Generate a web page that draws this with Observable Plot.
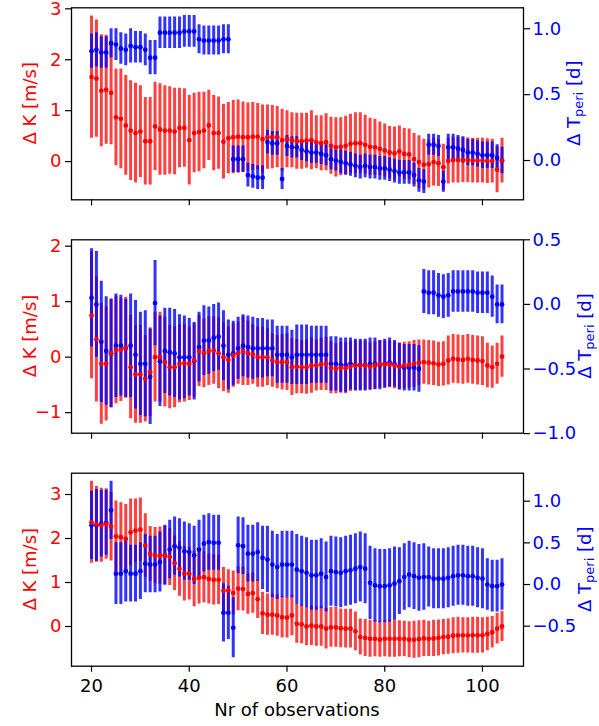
<!DOCTYPE html>
<html><head><meta charset="utf-8">
<script src="https://cdn.jsdelivr.net/npm/d3@7"></script>
<script src="https://cdn.jsdelivr.net/npm/@observablehq/plot@0.6"></script>
<style>
html,body{margin:0;padding:0;background:#fff;}
#chart{position:relative;width:599px;height:726px;}
#chart svg{position:absolute;left:0;top:0;}
</style></head><body><div id="chart"></div>
<script>
// Number of observations (x)
const observations = [20,21,22,23,24,25,26,27,28,29,30,31,32,33,34,35,36,37,38,39,40,41,42,43,44,45,46,47,48,49,50,51,52,53,54,55,56,57,58,59,60,61,62,63,64,65,66,67,68,69,70,71,72,73,74,75,76,77,78,79,80,81,82,83,84,85,86,87,88,89,90,91,92,93,94,95,96,97,98,99,100,101,102,103,104];

// Panel 1
const dK1 = [1.66,1.63,1.39,1.41,1.35,0.87,0.84,0.71,0.61,0.56,
 0.59,0.40,0.40,0.69,0.63,0.61,0.61,0.59,0.66,0.66,
 0.42,0.56,0.58,0.61,0.71,0.56,0.56,0.39,0.46,0.48,
 0.49,0.48,0.48,0.49,0.49,0.44,0.48,0.48,0.48,0.42,
 0.44,0.42,0.40,0.40,0.41,0.42,0.38,0.36,0.38,0.31,
 0.28,0.29,0.31,0.35,0.36,0.36,0.33,0.29,0.28,0.25,
 0.22,0.18,0.16,0.20,0.15,0.14,0.05,-0.01,-0.06,-0.05,
 -0.01,-0.03,-0.11,0.01,0.03,0.03,0.03,0.03,0.02,0.02,
 0.02,0.01,0.01,-0.16,0.02];
const dK1err = [1.2,1.15,1.1,1.07,1.02,0.95,0.98,0.98,0.98,0.98,
 0.9,0.86,0.86,0.87,0.9,0.88,0.86,0.85,0.78,0.77,
 0.88,0.78,0.78,0.75,0.69,0.74,0.71,0.73,0.7,0.72,
 0.72,0.69,0.67,0.67,0.65,0.67,0.63,0.62,0.6,0.61,
 0.56,0.54,0.55,0.55,0.54,0.58,0.52,0.54,0.56,0.56,
 0.58,0.57,0.58,0.58,0.6,0.6,0.58,0.56,0.55,0.53,
 0.52,0.51,0.52,0.5,0.5,0.5,0.5,0.52,0.5,0.47,
 0.47,0.46,0.45,0.45,0.45,0.45,0.44,0.44,0.44,0.44,
 0.44,0.44,0.43,0.45,0.44];
const dT1 = [0.83,0.84,0.82,0.82,0.89,0.88,0.85,0.84,0.87,0.86,
 0.86,0.84,0.78,0.78,0.97,0.97,0.97,0.97,0.97,0.98,
 0.98,0.98,0.92,0.91,0.91,0.91,0.91,0.92,0.92,0.01,
 0.01,0.01,-0.11,-0.12,-0.13,-0.13,0.14,0.13,0.13,-0.14,
 0.11,0.10,0.10,0.08,0.07,0.06,0.06,0.05,0.04,0.01,
 0.00,-0.01,-0.02,-0.03,-0.04,-0.05,-0.04,-0.05,-0.05,-0.06,
 -0.06,-0.07,-0.08,-0.09,-0.09,-0.09,-0.11,-0.15,-0.16,0.12,
 0.12,0.11,-0.16,0.10,0.10,0.09,0.08,0.06,0.06,0.05,
 0.04,0.04,0.04,0.02,0.00];
const dT1err = [0.13,0.13,0.12,0.12,0.11,0.12,0.12,0.12,0.13,0.12,
 0.12,0.12,0.13,0.13,0.12,0.12,0.12,0.12,0.12,0.12,
 0.12,0.12,0.11,0.11,0.11,0.11,0.11,0.11,0.11,0.10,
 0.10,0.10,0.09,0.09,0.09,0.09,0.09,0.09,0.09,0.08,
 0.08,0.08,0.08,0.08,0.08,0.08,0.08,0.08,0.08,0.08,
 0.08,0.09,0.09,0.09,0.09,0.09,0.09,0.09,0.09,0.09,
 0.09,0.09,0.09,0.09,0.09,0.09,0.09,0.09,0.09,0.08,
 0.08,0.08,0.08,0.10,0.10,0.10,0.10,0.10,0.10,0.10,
 0.10,0.10,0.10,0.10,0.10];

// Panel 2
const dK2 = [0.75,0.32,-0.12,-0.12,0.07,0.13,0.13,0.17,-0.18,-0.31,
 -0.31,-0.39,-0.27,0.0,0.0,-0.09,-0.18,-0.18,-0.12,-0.11,
 -0.12,-0.06,0.11,0.07,0.11,0.12,0.07,0.0,-0.05,0.03,
 0.07,0.11,0.07,0.05,0.0,0.0,0.0,-0.06,-0.09,-0.09,
 -0.09,-0.18,-0.17,-0.18,-0.18,-0.15,-0.15,-0.13,-0.12,-0.19,
 -0.21,-0.19,-0.2,-0.17,-0.15,-0.15,-0.15,-0.17,-0.15,-0.13,
 -0.13,-0.13,-0.15,-0.17,-0.15,-0.14,-0.12,-0.1,-0.09,-0.1,
 -0.11,-0.13,-0.12,-0.06,-0.03,-0.04,-0.05,-0.03,-0.05,-0.06,
 -0.07,-0.15,-0.18,-0.12,0.01];
const dK2err = [1.14,1.13,1.09,1.03,0.98,0.97,0.93,0.91,0.93,0.88,
 0.88,0.78,0.8,0.81,0.81,0.81,0.75,0.73,0.7,0.7,
 0.66,0.66,0.64,0.62,0.62,0.61,0.64,0.62,0.6,0.57,
 0.56,0.62,0.58,0.54,0.54,0.54,0.51,0.48,0.48,0.5,
 0.51,0.51,0.49,0.48,0.49,0.5,0.46,0.47,0.48,0.47,
 0.45,0.46,0.46,0.45,0.45,0.44,0.44,0.43,0.43,0.43,
 0.42,0.42,0.42,0.42,0.42,0.42,0.42,0.41,0.4,0.4,
 0.4,0.4,0.4,0.44,0.44,0.44,0.44,0.44,0.44,0.44,
 0.44,0.4,0.38,0.37,0.37];
const dT2 = [0.05,0.0,-0.29,-0.36,-0.38,-0.32,-0.32,-0.34,-0.32,-0.39,
 -0.46,-0.46,-0.56,0.01,-0.44,-0.36,-0.37,-0.38,-0.41,-0.41,
 -0.41,-0.44,-0.33,-0.28,-0.28,-0.26,-0.25,-0.32,-0.39,-0.38,
 -0.34,-0.32,-0.33,-0.34,-0.34,-0.34,-0.34,-0.34,-0.39,-0.39,
 -0.39,-0.41,-0.39,-0.39,-0.39,-0.39,-0.39,-0.39,-0.39,-0.46,
 -0.46,-0.47,-0.47,-0.46,-0.47,-0.47,-0.47,-0.46,-0.46,-0.47,
 -0.46,-0.45,-0.46,-0.48,-0.49,-0.49,-0.49,-0.5,0.1,0.09,
 0.09,0.07,0.06,0.07,0.1,0.1,0.1,0.1,0.1,0.09,
 0.09,0.09,0.06,0.0,0.0];
const dT2err = [0.38,0.41,0.47,0.42,0.42,0.4,0.39,0.38,0.4,0.42,
 0.4,0.41,0.37,0.33,0.35,0.33,0.34,0.34,0.33,0.32,
 0.3,0.3,0.27,0.27,0.26,0.26,0.26,0.27,0.27,0.25,
 0.24,0.24,0.24,0.24,0.23,0.23,0.22,0.22,0.22,0.22,
 0.22,0.21,0.23,0.23,0.23,0.22,0.22,0.22,0.22,0.21,
 0.21,0.21,0.21,0.2,0.2,0.2,0.2,0.2,0.2,0.19,
 0.19,0.19,0.18,0.18,0.18,0.18,0.18,0.18,0.17,0.17,
 0.17,0.17,0.17,0.17,0.16,0.16,0.16,0.16,0.16,0.16,
 0.16,0.16,0.16,0.15,0.15];

// Panel 3
const dK3 = [2.37,2.32,2.30,2.33,2.27,2.05,2.03,1.99,2.14,2.18,
 2.20,1.84,1.65,1.61,1.61,1.61,1.58,1.44,1.31,1.2,
 1.2,1.08,1.11,1.12,1.08,1.06,1.06,0.81,0.82,0.76,
 0.86,0.85,0.74,0.76,0.62,0.3,0.27,0.27,0.25,0.21,
 0.2,0.25,0.06,0.05,0.0,0.02,0.0,0.0,-0.05,-0.02,
 -0.02,-0.04,-0.05,-0.05,-0.11,-0.24,-0.26,-0.28,-0.28,-0.3,
 -0.28,-0.28,-0.28,-0.28,-0.28,-0.3,-0.3,-0.29,-0.27,-0.28,
 -0.27,-0.26,-0.24,-0.23,-0.21,-0.2,-0.2,-0.2,-0.2,-0.2,
 -0.2,-0.17,-0.13,-0.05,0.0];
const dK3err = [0.93,0.86,0.84,0.8,0.78,0.8,0.78,0.78,0.76,0.72,
 0.72,0.72,0.62,0.64,0.65,0.66,0.65,0.62,0.62,0.62,
 0.6,0.63,0.6,0.58,0.57,0.57,0.56,0.53,0.47,0.5,
 0.5,0.5,0.46,0.46,0.44,0.48,0.47,0.47,0.47,0.47,
 0.46,0.46,0.44,0.44,0.44,0.45,0.45,0.45,0.46,0.45,
 0.45,0.44,0.44,0.44,0.44,0.41,0.42,0.42,0.41,0.4,
 0.41,0.42,0.42,0.41,0.4,0.41,0.42,0.42,0.41,0.4,
 0.41,0.41,0.4,0.4,0.41,0.41,0.4,0.4,0.41,0.41,
 0.4,0.38,0.36,0.35,0.34];
const dT3 = [0.71,0.71,0.73,0.74,0.89,0.13,0.13,0.16,0.13,0.13,
 0.16,0.25,0.24,0.24,0.27,0.35,0.42,0.46,0.44,0.4,
 0.39,0.35,0.42,0.49,0.51,0.5,0.5,-0.34,-0.34,-0.52,
 0.47,0.46,0.37,0.37,0.39,0.32,0.3,0.24,0.21,0.24,
 0.24,0.24,0.18,0.16,0.14,0.11,0.11,0.13,0.09,0.16,
 0.15,0.14,0.16,0.17,0.19,0.21,0.19,0.02,-0.01,-0.02,
 -0.02,-0.01,0.01,0.04,0.09,0.12,0.1,0.08,0.09,0.09,
 0.07,0.07,0.07,0.08,0.1,0.11,0.11,0.1,0.1,0.08,
 0.07,0.0,-0.02,-0.02,0.0];
const dT3err = [0.41,0.43,0.4,0.39,0.35,0.37,0.37,0.37,0.34,0.34,
 0.34,0.35,0.34,0.34,0.36,0.36,0.35,0.35,0.35,0.35,
 0.34,0.35,0.35,0.34,0.34,0.33,0.33,0.35,0.32,0.36,
 0.34,0.34,0.34,0.34,0.35,0.38,0.4,0.4,0.39,0.4,
 0.4,0.4,0.42,0.42,0.42,0.42,0.42,0.42,0.42,0.42,
 0.42,0.42,0.42,0.42,0.42,0.42,0.42,0.44,0.44,0.44,
 0.44,0.44,0.44,0.4,0.4,0.4,0.4,0.4,0.4,0.36,
 0.36,0.36,0.36,0.36,0.36,0.36,0.36,0.36,0.36,0.36,
 0.36,0.31,0.31,0.31,0.31];

// Tick values
const xTicks = [20,40,60,80,100];
const kTicks1 = [0,1,2,3];
const tTicks1 = [0,0.5,1];
const kTicks2 = [-1,0,1,2];
const tTicks2 = [-1,-0.5,0,0.5];
const kTicks3 = [0,1,2,3];
const tTicks3 = [-0.5,0,0.5,1];

const xLabel = "Nr of observations";
const kLabel = "Δ K [m/s]";

const W = 599, H = 726;
const RED = "#ff0000", BLUE = "#0000ff";
const FONT = '"DejaVu Sans", "Liberation Sans", sans-serif';
const xDomain = [15.9, 108.4];

const panels = [
  {k: dK1, ke: dK1err, t: dT1, te: dT1err, kDomain: [-0.75, 3.02], tDomain: [-0.298, 1.159], kTicks: kTicks1, tTicks: tTicks1, top: 7.3, bottom: 199.3, xLabels: false, tLabelX: 580},
  {k: dK2, ke: dK2err, t: dT2, te: dT2err, kDomain: [-1.37, 2.115], tDomain: [-0.997, 0.5], kTicks: kTicks2, tTicks: tTicks2, top: 239.3, bottom: 432.7, xLabels: false, tLabelX: 591},
  {k: dK3, ke: dK3err, t: dT3, te: dT3err, kDomain: [-0.902, 3.484], tDomain: [-0.98, 1.336], kTicks: kTicks3, tTicks: tTicks3, top: 472.7, bottom: 665.7, xLabels: true, tLabelX: 591}
];

const chart = document.getElementById("chart");
const fmtInt = d3.format("d");
const fmt1 = d3.format(".1f");

for (const p of panels) {
  const rows = observations.map((x, i) => ({x, k: p.k[i], ke: p.ke[i], t: p.t[i], te: p.te[i]}));
  const base = {
    width: W, height: H,
    marginLeft: 71, marginRight: W - 523,
    marginTop: p.top, marginBottom: H - p.bottom,
    x: {domain: xDomain, axis: null},
    style: {background: "transparent", fontFamily: FONT, fontSize: "18px", overflow: "visible"}
  };
  // Layer A: red error bars
  chart.appendChild(Plot.plot({
    ...base,
    y: {domain: p.kDomain, axis: null},
    marks: [
      Plot.ruleX(rows, {x: "x", y1: d => d.k - d.ke, y2: d => d.k + d.ke, stroke: RED, strokeOpacity: 0.75, strokeWidth: 3, clip: true})
    ]
  }));
  // Layer B: blue error bars, dots and right axis
  chart.appendChild(Plot.plot({
    ...base,
    y: {domain: p.tDomain, axis: null},
    marks: [
      Plot.ruleX(rows, {x: "x", y1: d => d.t - d.te, y2: d => d.t + d.te, stroke: BLUE, strokeOpacity: 0.8, strokeWidth: 3, clip: true}),
      Plot.dot(rows, {x: "x", y: "t", r: 2.4, fill: BLUE, stroke: "none", clip: true}),
      Plot.axisY(p.tTicks, {anchor: "right", tickSize: 6, tickPadding: 3, stroke: "#000", fill: BLUE, strokeWidth: 1.2, label: null, tickFormat: d => fmt1(d)})
    ]
  }));
  // Layer C: red dots, left axis, x axis, frame
  chart.appendChild(Plot.plot({
    ...base,
    y: {domain: p.kDomain, axis: null},
    marks: [
      Plot.dot(rows, {x: "x", y: "k", r: 2.4, fill: RED, stroke: "none", clip: true}),
      Plot.axisY(p.kTicks, {anchor: "left", tickSize: 6, tickPadding: 4, stroke: "#000", fill: RED, strokeWidth: 1.2, label: null, tickFormat: d => fmtInt(d)}),
      Plot.axisX(xTicks, {anchor: "bottom", tickSize: 6, tickPadding: 7, stroke: "#000", fill: "#000", strokeWidth: 1.2, label: null, tickFormat: p.xLabels ? (d => fmtInt(d)) : (() => "")}),
      Plot.frame({stroke: "#000", strokeWidth: 1.3})
    ]
  }));
}

// Axis titles
const svg = d3.select(chart).append("svg")
  .attr("width", W).attr("height", H)
  .style("font-family", FONT).style("font-size", "18px");

for (const p of panels) {
  const cy = (p.top + p.bottom) / 2;
  svg.append("text")
    .attr("transform", `translate(36,${cy}) rotate(-90)`)
    .attr("text-anchor", "middle").attr("fill", RED)
    .text(kLabel);
  const t = svg.append("text")
    .attr("transform", `translate(${p.tLabelX},${cy}) rotate(-90)`)
    .attr("text-anchor", "middle").attr("fill", BLUE);
  t.append("tspan").text("Δ T");
  t.append("tspan").attr("font-size", "13px").attr("dy", 3).text("peri");
  t.append("tspan").attr("dy", -3).text(" [d]");
}
svg.append("text")
  .attr("x", 297).attr("y", 716)
  .attr("text-anchor", "middle").attr("fill", "#000")
  .text(xLabel);
</script>
</body></html>
